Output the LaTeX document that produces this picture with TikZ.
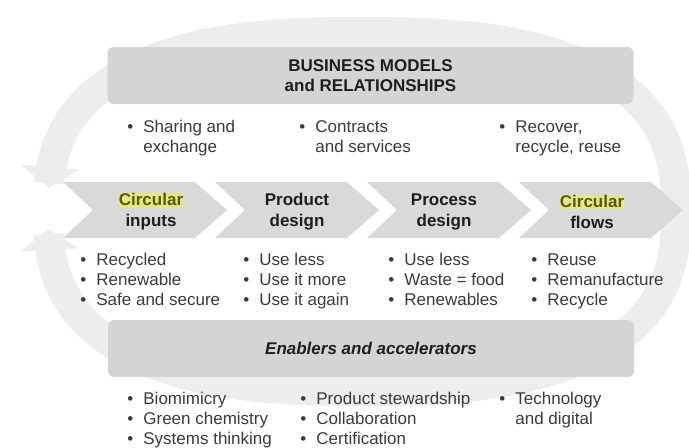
\documentclass[tikz,border=0pt]{standalone}
\usepackage{fontspec}
\setmainfont{Liberation Sans}
\usetikzlibrary{arrows.meta}
\definecolor{ringgray}{HTML}{EDEDED}
\definecolor{boxgray}{HTML}{D4D4D4}
\definecolor{chevgray}{HTML}{D9D9D9}
\definecolor{hlyellow}{HTML}{E6E68A}
\definecolor{olivetext}{HTML}{5A5A0A}
\definecolor{bodytext}{HTML}{3A3A3A}
\definecolor{headtext}{HTML}{1E1E1E}
\newcommand{\bul}{\makebox[8pt][l]{\textbullet}}
\newcommand{\nobul}{\hspace*{8pt}}
\newcommand{\hlt}[1]{{\setlength{\fboxsep}{0pt}\colorbox{hlyellow}{\rule[-1pt]{0pt}{7.3pt}\textcolor{olivetext}{#1}}}}

\begin{document}
\begin{tikzpicture}[x=0.5pt, y=0.5pt,
  every node/.style={font=\fontsize{8.5}{10}\selectfont},
  panel/.style={fill=boxgray, 
    rounded corners=3pt, 
    minimum width=263pt, 
    minimum height=28.5pt, 
    align=center, 
    text=headtext},
  stage/.style={align=center, 
    font=\fontsize{8.5}{10.5}\selectfont\bfseries, 
    text=headtext},
  items/.style={anchor=north west, 
    align=left, 
    inner sep=0pt, 
    text=bodytext},
  ring/.style={draw=ringgray, line width=15pt},
  ringtip/.style={Triangle[length=10.5pt, width=29pt]}]
  \useasboundingbox (0,0) rectangle (689,447);

% RING

  \draw[ring, -{Triangle[length=10.5pt, width=29pt]}] 
    plot[domain=-10:175.9, samples=160, variable=\t] 
    ({362+314*cos(\t)*pow(abs(cos(\t))+0.0001,-0.23)}, 
     {235.5+179.5*sin(\t)*pow(abs(sin(\t))+0.0001,-0.23)});

  \draw[ring, {Triangle[length=10.5pt, width=29pt]}-] 
    plot[domain=182.8:370, samples=160, variable=\t] 
    ({362+314*cos(\t)*pow(abs(cos(\t))+0.0001,-0.23)}, 
     {235.5+179.5*sin(\t)*pow(abs(sin(\t))+0.0001,-0.23)});

% STAGES

  \foreach \i in {0,...,3}
    \fill[chevgray] ({63+152*\i},265) -- ++(132,0) -- ++(32,-28) 
      -- ++(-32,-28) -- ++(-132,0) -- ++(30,28) -- cycle;

  \node[stage] (inputs) at (151,235.5) {\hlt{Circular}\\inputs};
  \node[stage] (product) at (297,235.5) {Product\\design};
  \node[stage] (process) at (444,235.5) {Process\\design};
  \node[stage] (flows) at (592,235.5) {\hlt{Circular}\\flows};

% PANELS

  \node[panel] (business) at (370.5,371.5) 
    {\textbf{BUSINESS MODELS}\\\textbf{and RELATIONSHIPS}};
  \node[panel] (enablers) at (371,98.5) 
    {\textbf{\textit{Enablers and accelerators}}};

  % business model items
  \node[items] (sharing) at (127,327) {\bul Sharing and\\\nobul exchange};
  \node[items] (contracts) at (299,327) {\bul Contracts\\\nobul and services};
  \node[items] (recover) at (499,327) {\bul Recover,\\\nobul recycle, reuse};

  % stage items
  \node[items] (inputlist) at (80,194) 
    {\bul Recycled\\\bul Renewable\\\bul Safe and secure};
  \node[items] (productlist) at (243,194) 
    {\bul Use less\\\bul Use it more\\\bul Use it again};
  \node[items] (processlist) at (388,194) 
    {\bul Use less\\\bul Waste = food\\\bul Renewables};
  \node[items] (flowlist) at (531,194) 
    {\bul Reuse\\\bul Remanufacture\\\bul Recycle};

  % enabler items
  \node[items] (biolist) at (127,55) 
    {\bul Biomimicry\\\bul Green chemistry\\\bul Systems thinking};
  \node[items] (stewardlist) at (300,55) 
    {\bul Product stewardship\\\bul Collaboration\\\bul Certification};
  \node[items] (techlist) at (499,55) 
    {\bul Technology\\\nobul and digital};

\end{tikzpicture}
\end{document}
